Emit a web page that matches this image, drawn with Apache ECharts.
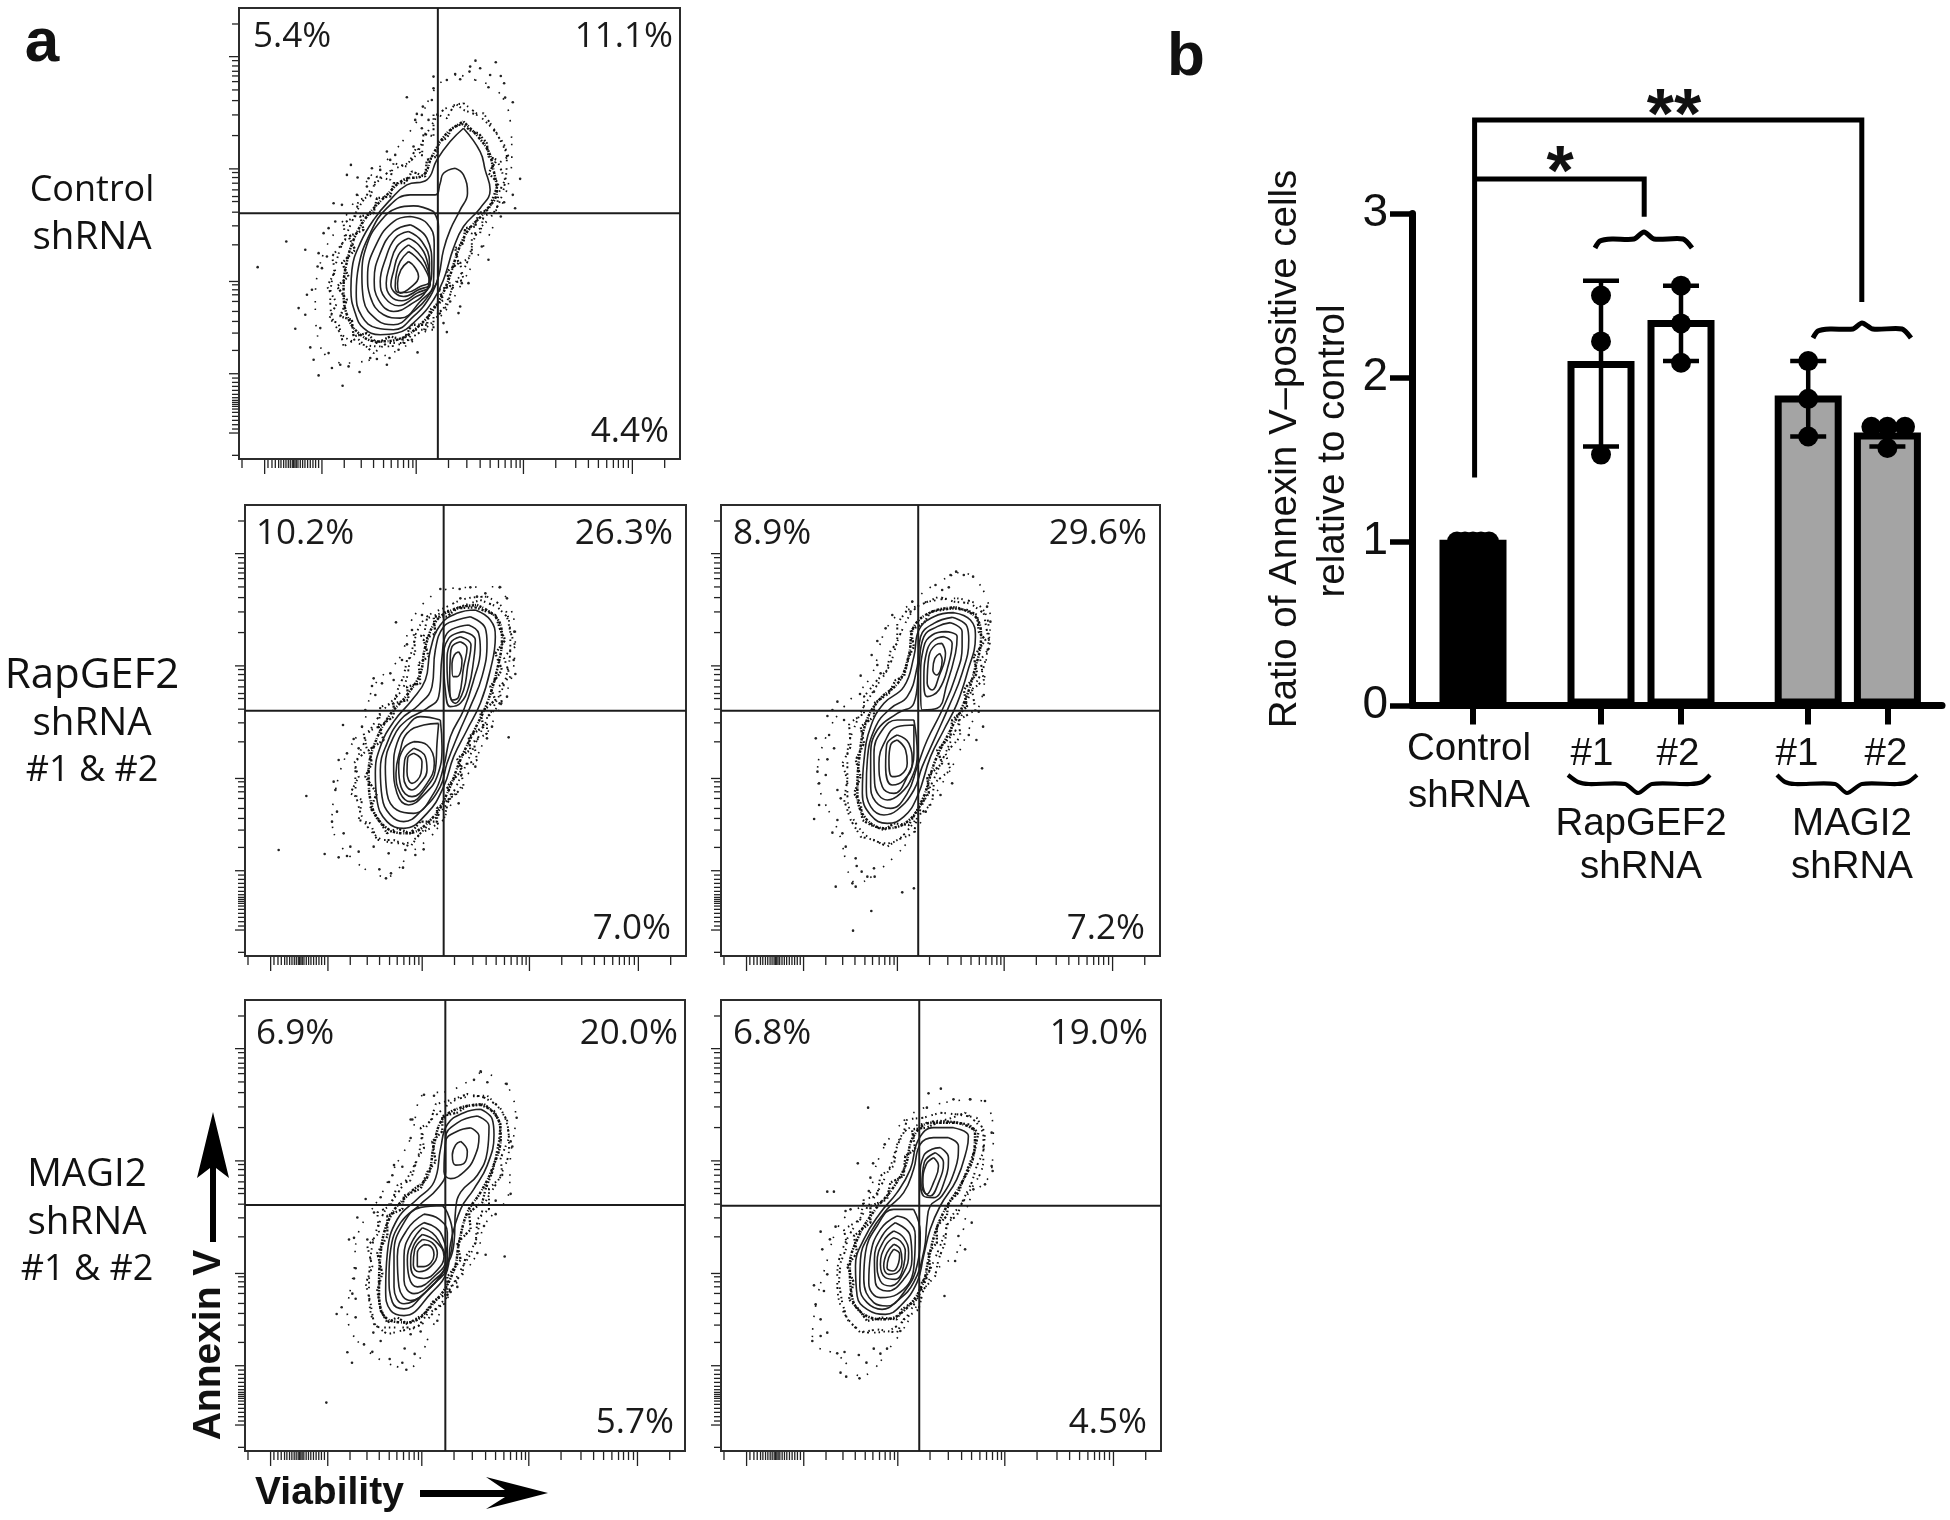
<!DOCTYPE html>
<html><head><meta charset="utf-8">
<style>html,body{margin:0;background:#fff}#c{width:1950px;height:1520px}</style>
<script src="https://cdn.jsdelivr.net/npm/echarts@6/dist/echarts.min.js"></script></head>
<body><div id="c"></div>
<script>
// ---------- Panel b values ----------
const barPositions=[0,1.6,2.6,4.19,5.18];
const barMeans=[1.01,2.10,2.35,1.89,1.665];
const barFills=['#000','#fff','#fff','#a4a4a4','#a4a4a4'];
const barErrors=[[1,1],[1.58,2.59],[2.10,2.56],[1.64,2.10],[1.58,1.70]];
const barPoints=[[-0.2,1],[-0.1,1],[0,1],[0.1,1],[0.2,1],
 [1.6,2.5],[1.6,2.22],[1.6,1.53],[2.6,2.56],[2.6,2.33],[2.6,2.09],
 [4.19,2.1],[4.19,1.87],[4.19,1.64],[4.98,1.7],[5.18,1.7],[5.4,1.7],[5.18,1.57]];
const yTicks=[0,1,2,3];
const sigBracketLong=[[0.02,1.39],[0.02,3.57],[4.86,3.57],[4.86,2.46]];
const sigBracketShort=[[0.02,3.21],[2.14,3.21],[2.14,2.98]];

// ---------- Shared cytometer tick offsets (biexponential scale) ----------
const xTickMajor=[77,249,532,854,1181];
const xTickMinor=[9,87,99,109,119,126,134,141,148,154,160,164,168,172,177,184,191,198,206,214,222,230,239,316,367,404,434,457,477,494,509,522,629,684,724,754,779,799,817,832,844,951,1011,1049,1079,1104,1124,1139,1154,1169,1278];
const yTickMajor=[146,483,821,1098,1276];
const yTickMinor=[48,158,174,190,204,221,246,278,321,383,494,509,526,546,566,581,613,654,711,831,846,861,881,911,941,976,1028,1111,1124,1136,1148,1160,1170,1178,1184,1190,1196,1204,1214,1226,1238,1251,1264,1343];

// ---------- Panel a: Control ----------
const controlContours=[
[700,385,750,455,765,510,780,570,750,625,700,680,670,745,640,840,610,900,560,960,500,1000,450,1005,400,985,375,940,362,870,365,810,390,730,430,660,480,600,530,555,590,540,620,480,660,425],
[675,505,700,525,712,580,690,630,660,690,640,750,625,830,600,890,550,950,490,990,440,985,395,950,378,880,385,800,420,700,470,625,540,585,615,585,630,550,640,520],
[610,635,550,618,500,625,450,665,410,735,395,830,400,900,440,960,490,975,550,935,600,880,625,820,625,680],
[540,650,490,665,440,730,412,830,420,890,460,945,510,955,570,905,610,850,612,730,590,670],
[540,675,490,695,450,760,432,840,445,900,490,935,540,915,590,870,605,800,590,715],
[535,695,495,715,465,780,450,845,465,895,505,918,550,895,595,860,598,790,575,725],
[535,715,500,740,478,800,468,850,482,890,515,903,560,880,600,855,590,780,565,735],
[535,735,505,765,490,815,482,855,495,880,520,890,565,870,600,850,585,790,560,755],
[535,755,510,785,498,825,495,860,505,878,530,878,570,860,598,845,580,800,555,770],
[535,785,512,810,502,850,510,880,545,860,565,830,552,800]];
const controlHalo=[
[700,365,770,445,790,510,800,575,765,635,715,690,685,750,655,840,625,905,570,975,500,1020,440,1025,385,1000,350,945,340,870,345,810,370,720,410,650,470,585,520,540,580,525,605,470,650,400],
[700,310,790,390,830,470,820,570,790,640,740,700,710,790,670,860,630,940,550,1010,470,1040,380,1030,320,985,300,900,320,780,350,700,400,600,470,520,545,480,590,400,640,330],
[735,240,800,270,840,360,845,470,830,570,780,700,730,790,690,860,640,940,540,1030,440,1075,340,1090,270,1040,255,900,280,760,340,660,420,530,480,470,570,350,620,260,680,225]];
const controlBands=[
[695,372,725,395,745,400,770,430,775,470,800,480,775,520,805,550,790,590,775,630,745,640,735,680,705,685,700,730,675,745,685,790,650,815,660,860,625,870,640,900,600,930,590,975,545,975,520,1020,480,1010,440,1030,410,1000,370,1010,365,960,330,950,350,900,320,860,355,830,335,790,375,750,355,710,400,690,390,650,430,640,440,595,480,590,490,550,525,550,545,515,585,530,590,480,620,470,625,425,650,415,665,385],
[700,330,740,345,760,340,800,400,815,430,835,470,805,490,825,540,805,580,800,630,760,650,750,700,725,700,725,770,690,790,700,840,670,850,650,920,610,950,610,990,550,990,530,1030,470,1030,430,1060,380,1015,340,1040,325,970,295,960,320,910,290,860,315,815,305,770,345,720,340,670,375,650,385,600,420,590,440,530,480,540,490,490,530,500,560,440,575,470,580,400,610,410,610,340,650,355,675,310]];
const controlDots=[[736,182],[797,187],[720,200],[750,205],[718,215],[780,225],[812,228],[610,230],[650,240],[690,238],[822,250],[610,265],[775,262],[675,222],[530,292],[605,300],[848,307],[825,293],[578,320],[575,345],[560,342],[595,360],[555,360],[575,385],[550,440],[470,455],[495,465],[480,480],[362,495],[350,525],[382,533],[425,505],[450,510],[415,535],[870,537],[848,585],[822,607],[855,625],[812,650],[310,610],[335,615],[380,585],[410,560],[315,665],[295,685],[280,700],[168,725],[225,750],[82,802],[265,760],[290,770],[262,800],[275,805],[775,780],[755,740],[715,850],[695,850],[660,905],[690,920],[685,940],[640,970],[650,997],[205,925],[225,945],[230,885],[195,987],[240,1043],[250,1080],[265,1127],[305,1105],[337,1158],[355,1100],[388,1117],[420,1075],[470,1095],[478,1075],[562,1058],[545,1020],[245,870],[270,985],[295,1060],[440,1078],[330,1095],[505,1050]];

// ---------- Panel a: RapGEF2 #1 ----------
const rap1Contours=[
[735,330,780,360,795,410,780,510,750,610,710,690,670,770,640,860,590,940,520,985,470,965,440,900,435,820,450,740,490,665,545,600,585,540,600,450,630,375,680,340],
[720,350,765,385,770,430,755,530,720,620,685,700,650,790,630,860,575,930,520,965,480,945,455,890,450,810,470,730,510,660,565,615,605,560,615,450,640,380,680,360],
[715,375,745,400,750,450,730,540,700,630,660,710,640,800,610,880,550,940,500,930,470,880,465,800,490,710,530,660,590,625,625,590,635,470,650,400],
[700,395,735,420,730,480,715,560,690,610,660,620,645,570,640,480,655,415],
[690,410,722,435,712,500,700,570,675,610,655,570,650,490,660,430],
[690,425,710,445,700,500,685,590,665,600,658,540,660,470,665,440],
[685,455,695,480,680,530,668,530,665,490,672,465],
[630,660,570,650,530,680,500,730,490,800,500,880,535,915,585,880,620,830,635,740],
[625,670,580,675,530,700,510,750,497,820,510,880,540,905,590,860,615,810,620,730],
[550,725,590,735,612,790,590,850,545,890,512,860,505,800,520,745],
[550,745,585,770,590,810,570,850,545,870,520,830,523,780],
[550,760,575,785,572,820,545,850,530,815,532,775]];
const rap1Halo=[
[740,315,800,355,815,415,800,510,770,610,730,695,690,780,655,870,610,950,530,1000,470,985,425,920,415,820,430,740,475,650,530,585,570,520,585,440,620,360,680,325],
[770,290,830,340,840,430,825,540,790,620,740,720,700,810,650,910,590,980,520,1030,440,1010,385,920,375,820,410,710,460,630,520,560,545,450,580,360,650,320,710,295],
[810,260,855,390,850,500,810,620,780,680,730,790,680,880,610,1000,540,1060,470,1130,350,1060,305,960,320,850,350,760,400,670,430,560,510,470,550,350,640,270,720,262]];
const rap1Bands=[
[735,322,770,335,795,345,810,390,825,420,795,460,815,510,780,560,795,600,750,640,760,680,715,710,720,750,680,775,695,810,650,860,665,890,620,925,620,965,570,965,540,1000,500,985,470,1000,440,950,420,925,440,880,405,830,425,790,415,750,460,720,445,680,490,650,490,610,535,600,530,560,570,550,565,490,595,470,580,420,615,400,610,350,650,350,680,325],
[750,300,800,320,830,350,840,395,855,440,820,470,840,530,805,560,815,610,770,650,770,700,730,725,740,780,690,800,700,860,655,900,640,960,600,985,570,1000,540,1040,490,1020,440,1020,420,970,385,960,395,900,360,880,385,830,370,790,410,750,400,700,445,680,450,620,490,610,505,560,520,530,530,480,555,460,550,400,580,410,590,355,630,340]];
const rap1Dots=[[630,267],[688,267],[720,262],[808,262],[765,280],[830,295],[740,290],[690,295],[852,395],[850,480],[855,522],[830,590],[808,610],[785,680],[835,712],[770,715],[735,800],[685,910],[497,367],[575,345],[545,390],[530,433],[515,480],[480,520],[430,535],[490,540],[455,550],[425,558],[435,585],[338,675],[370,717],[385,745],[325,780],[350,760],[395,680],[405,630],[310,845],[228,888],[315,870],[145,1050],[283,1062],[325,1072],[350,1068],[320,935],[305,965],[340,1000],[360,1040],[385,1055],[447,1108],[467,1135],[482,1120],[518,1103],[555,1065],[580,1048],[430,1040],[475,1060],[525,1050]];

// ---------- Panel a: RapGEF2 #2 ----------
const rap2Contours=[
[760,338,810,360,825,410,800,520,770,610,730,690,690,770,650,890,610,950,560,970,510,945,485,880,490,780,510,680,550,610,610,560,640,470,655,390,700,350],
[755,352,800,380,805,420,785,520,745,620,705,710,665,800,640,870,590,930,550,945,510,920,497,860,500,780,525,680,570,625,620,590,650,500,660,410,700,370],
[750,368,785,395,785,440,765,530,725,630,680,720,650,800,620,880,570,925,525,905,510,850,510,770,530,690,590,640,640,610,655,500,670,410,710,380],
[735,395,770,410,765,460,740,550,710,625,665,630,660,540,670,440,695,405],
[730,410,755,430,745,490,715,570,680,590,670,540,680,450,700,420],
[725,430,735,460,715,530,695,570,680,550,685,470,705,435],
[718,460,725,480,708,525,697,510,703,475],
[640,660,590,660,545,690,520,760,522,850,560,900,600,880,635,830,650,760],
[640,675,590,680,555,720,535,790,545,860,580,880,620,830,640,760],
[590,705,625,730,635,790,610,840,575,855,555,800,558,735],
[590,720,615,750,620,790,600,825,575,830,565,780,570,735]];
const rap2Halo=[
[765,322,825,350,842,410,820,520,790,610,750,690,705,780,665,900,620,965,555,985,495,955,470,880,475,780,495,670,535,600,595,545,625,465,640,380,695,335],
[770,295,840,320,865,390,850,500,810,580,770,680,730,770,680,880,630,980,560,1030,480,990,440,880,440,770,470,660,520,570,565,500,600,400,650,320,710,300],
[770,218,820,230,870,360,855,500,845,590,800,700,755,800,700,890,640,1000,560,1090,470,1150,415,1000,350,820,380,700,430,620,510,530,555,390,630,310,700,255]];
const rap2Bands=[
[755,325,800,330,830,345,835,395,855,420,820,470,830,520,790,570,800,620,755,660,750,710,710,750,725,790,680,830,685,880,650,930,625,975,580,970,550,990,510,975,485,960,480,910,460,880,480,830,465,780,490,730,480,680,520,650,520,610,565,580,585,540,610,530,625,470,640,440,630,390,670,370,690,335],
[760,305,810,310,850,340,860,395,870,440,840,480,850,540,815,570,825,630,775,660,780,710,735,760,750,810,700,850,695,910,650,950,640,1000,590,1020,560,1040,520,1020,480,1010,450,960,430,900,440,840,425,790,450,740,445,670,490,640,490,590,530,540,560,510,570,450,590,430,590,370,620,330,670,310,715,290]];
const rap2Dots=[[767,215],[790,225],[818,230],[750,225],[705,255],[725,270],[745,262],[635,305],[630,335],[575,345],[555,385],[530,423],[513,465],[530,495],[480,527],[540,520],[478,582],[520,575],[410,605],[395,630],[380,648],[430,660],[345,715],[385,705],[400,745],[380,778],[350,815],[355,850],[375,825],[410,870],[420,895],[355,915],[340,957],[395,998],[410,960],[425,1000],[435,1040],[465,1075],[468,1098],[483,1115],[500,1130],[520,1105],[522,1130],[405,1160],[455,1150],[465,1160],[512,1233],[457,1292],[605,1177],[640,1165],[845,805],[828,720],[848,680],[805,705],[755,850],[720,885],[675,935],[850,585],[835,635],[870,365],[860,320]];

// ---------- Panel a: MAGI2 #1 ----------
const magi1Contours=[
[870,355,905,385,910,430,890,520,850,590,810,650,780,750,770,830,720,900,640,965,600,950,585,890,590,780,620,680,680,620,730,570,750,470,770,400,820,365],
[860,375,895,405,890,480,860,550,810,600,795,650,790,750,760,830,700,900,640,945,605,925,595,850,600,770,630,690,690,635,740,590,765,540,765,440,800,395],
[840,410,865,435,850,500,820,540,780,560,760,540,765,450,800,420],
[810,450,830,480,820,515,795,520,785,490,795,460],
[755,640,690,645,640,690,610,780,610,880,640,930,700,900,770,810,785,720,770,660],
[700,665,650,710,620,790,625,880,660,920,720,880,770,810,770,720,745,680],
[700,690,660,725,640,790,640,860,670,900,720,870,770,800,755,730,735,705],
[695,705,665,745,650,800,655,850,680,880,730,850,765,800,745,745,725,720],
[695,725,668,760,660,810,668,845,700,855,740,830,760,790,735,745],
[695,740,672,770,668,815,685,835,720,820,740,780,725,750],
[700,755,680,780,680,820,700,820,730,785,720,760]];
const magi1Halo=[
[880,340,925,390,930,440,905,530,870,600,830,660,805,750,790,830,740,915,650,985,590,975,565,900,570,780,600,670,660,600,710,555,730,460,755,385,810,350],
[890,315,945,385,955,470,930,550,880,640,850,760,810,830,750,930,660,1000,570,1000,535,900,540,790,575,670,630,590,680,500,700,420,750,360,820,320],
[870,245,945,280,975,380,960,490,955,600,880,700,860,780,790,880,735,980,650,1120,520,1060,470,960,490,830,500,730,570,610,610,530,660,440,700,310,780,300]];
const magi1Bands=[
[870,342,910,360,930,400,925,450,915,500,905,540,885,590,875,630,835,660,840,710,800,750,810,800,770,850,770,900,730,920,700,960,650,990,620,970,590,985,570,950,560,890,575,840,560,780,590,730,590,670,635,650,640,610,690,590,710,540,735,510,725,450,755,420,755,375,800,365,830,345],
[880,320,925,345,950,390,955,440,930,500,935,550,895,590,895,650,860,680,855,750,825,790,815,840,780,880,760,930,710,960,680,1000,630,1010,590,1020,550,990,540,930,525,870,545,820,530,760,565,720,560,660,600,640,620,580,660,565,680,500,700,470,690,410,720,390,735,340,790,325,830,310]];
const magi1Dots=[[870,243],[850,268],[890,275],[948,280],[730,315],[700,312],[665,385],[978,380],[960,450],[965,465],[960,605],[915,625],[915,665],[880,700],[860,780],[942,790],[885,785],[800,880],[780,895],[740,980],[660,385],[660,440],[610,520],[635,525],[605,550],[595,570],[570,615],[525,620],[500,675],[550,660],[475,740],[490,735],[530,740],[495,825],[490,855],[485,900],[495,915],[453,940],[438,960],[495,970],[407,1222],[548,1015],[520,1050],[470,1073],[484,1104],[545,1072],[597,1093],[635,1104],[647,1125],[672,1078],[642,1062],[690,1012],[660,1020],[570,1040]];

// ---------- Panel a: MAGI2 #2 ----------
const magi2Contours=[
[760,415,805,440,800,480,770,570,720,650,690,720,670,800,650,880,600,950,555,975,500,960,470,920,465,830,490,750,540,670,590,610,630,540,655,450,700,415],
[745,445,775,470,765,540,725,620,690,650,680,700,672,780,640,880,590,935,545,960,500,940,478,890,480,810,510,730,560,660,610,610,640,540,660,465,700,445],
[720,475,745,505,735,570,700,625,670,620,660,560,670,500,695,480],
[705,490,730,520,715,580,690,620,665,590,672,520],
[700,505,715,530,700,580,680,615,668,580,678,525],
[640,660,580,660,530,710,495,790,490,870,520,940,560,950,610,910,650,830,660,730],
[590,680,540,720,510,800,505,880,540,925,590,915,640,840,645,740,625,695],
[585,700,545,740,522,810,525,880,560,905,610,870,635,810,630,740],
[580,725,550,755,530,820,540,875,570,890,610,850,625,790,610,745],
[580,745,555,770,540,825,555,865,585,870,610,830,615,785,600,755],
[580,765,560,790,550,830,565,855,590,850,605,815,600,780],
[580,780,565,805,560,835,578,845,595,820,598,795]];
const magi2Halo=[
[770,400,825,430,822,490,785,580,735,660,705,730,685,810,665,890,610,965,555,990,490,975,455,925,448,830,475,740,525,660,575,600,615,530,640,440,695,400],
[795,370,850,440,850,510,800,620,750,690,720,770,690,840,650,930,590,1010,510,1030,430,970,410,860,430,770,490,670,530,610,570,530,610,430,680,400,740,390],
[810,330,855,340,880,430,875,540,810,630,790,720,770,790,700,850,660,930,580,1060,480,1160,415,1100,335,1055,345,950,375,830,420,700,500,630,530,520,580,430,660,360]];
const magi2Bands=[
[760,398,805,405,835,430,825,480,810,520,790,570,775,610,745,640,740,680,710,710,710,760,685,790,690,840,665,880,650,930,605,960,590,990,545,985,500,995,475,960,445,930,460,880,440,830,470,790,460,740,510,700,510,650,560,630,570,580,610,560,615,500,645,480,635,420,680,415,720,395],
[770,375,830,385,855,430,850,490,830,530,815,580,790,630,770,680,740,700,735,760,715,810,705,860,670,900,655,960,610,990,590,1030,530,1020,480,1030,440,990,425,940,415,880,420,820,440,770,430,720,480,690,490,630,530,620,540,560,580,530,590,470,610,430,620,390,670,385,720,370]];
const magi2Dots=[[722,298],[685,312],[855,335],[810,330],[760,330],[680,355],[503,355],[875,430],[875,530],[878,545],[855,585],[820,600],[815,700],[795,780],[765,815],[733,920],[775,740],[472,522],[518,522],[553,465],[510,565],[380,607],[400,607],[505,605],[450,660],[435,665],[405,712],[360,727],[388,750],[365,780],[380,855],[340,888],[370,905],[345,945],[360,990],[380,1030],[335,1055],[360,1040],[410,1092],[432,1088],[420,1150],[437,1162],[477,1167],[498,1120],[475,1097],[520,1078],[540,1093],[560,1078],[600,1025]];

// ---------- Text ----------
const quadrantLabels=[['5.4%','11.1%','4.4%'],['10.2%','26.3%','7.0%'],['8.9%','29.6%','7.2%'],['6.9%','20.0%','5.7%'],['6.8%','19.0%','4.5%']];

// ---------- Layout ----------
const panels=[
 {c:controlContours,h:controlHalo,z:controlBands,d:controlDots,l:239,t:8,r:680,b:459,ax:[26,1350],ay:[24,1378],gx:623,gy:640,lx:253,rx:673,rbx:669,ty:37,by:432},
 {c:rap1Contours,h:rap1Halo,z:rap1Bands,d:rap1Dots,l:245,t:505,r:686,b:956,ax:[44,1367],ay:[15,1368],gx:640,gy:632,lx:256,rx:673,rbx:671,ty:534,by:929},
 {c:rap2Contours,h:rap2Halo,z:rap2Bands,d:rap2Dots,l:721,t:505,r:1160,b:956,ax:[60,1380],ay:[15,1368],gx:653,gy:632,lx:733,rx:1147,rbx:1145,ty:534,by:929},
 {c:magi1Contours,h:magi1Halo,z:magi1Bands,d:magi1Dots,l:245,t:1000,r:685,b:1451,ax:[163,1483],ay:[32,1365],gx:764,gy:638,lx:256,rx:678,rbx:674,ty:1034,by:1423},
 {c:magi2Contours,h:magi2Halo,z:magi2Bands,d:magi2Dots,l:721,t:1000,r:1161,b:1451,ax:[60,1385],ay:[32,1385],gx:657,gy:649,lx:733,rx:1148,rbx:1147,ty:1034,by:1423}
];
const pairs=a=>{const o=[];for(let i=0;i<a.length;i+=2)o.push([a[i],a[i+1]]);return o;};
const closed=a=>{const p=pairs(a);p.push(p[0]);return p;};
const grid=[],xAxis=[],yAxis=[],series=[],graphic=[];
const ink='#1c1c1c';
const haloStyles=[{width:2.5,dash:[1.5,1.2,2.4,1,1,1.8,2.6,1.2]},{width:1.9,dash:[1.5,3,1.5,5,2,2.6,1.5,7,1.5,3.5]},{width:1.6,dash:[1.5,9,1.5,15,1.5,6,1.5,11]}];
const bandStyles=[{width:2.3,dash:[1.6,1.4,1.6,2,2.2,1.2,1.6,2.6]},{width:2,dash:[1.5,2.4,1.5,4,2,2,1.5,5]}];
panels.forEach((p,i)=>{
 grid.push({left:p.l,top:p.t,width:p.r-p.l,height:p.b-p.t,show:true,borderColor:'#2c2c2c',borderWidth:2,backgroundColor:'#fff'});
 xAxis.push({type:'value',gridIndex:i,min:p.ax[0],max:p.ax[1],show:false});
 yAxis.push({type:'value',gridIndex:i,min:p.ay[0],max:p.ay[1],inverse:true,show:false});
 const base={xAxisIndex:i,yAxisIndex:i,animation:false,silent:true,symbol:'none'};
 p.h.forEach((r,k)=>series.push({...base,type:'line',smooth:0.4,data:closed(r),z:2,lineStyle:{color:'#111',width:haloStyles[k].width,type:haloStyles[k].dash}}));
 p.z.forEach((r,k)=>series.push({...base,type:'line',data:closed(r),z:2,lineStyle:{color:'#111',width:bandStyles[k].width,type:bandStyles[k].dash}}));
 series.push({...base,type:'scatter',symbol:'circle',symbolSize:2.6,data:p.d,z:2,itemStyle:{color:'#222',opacity:1}});
 p.c.forEach(c=>series.push({...base,type:'line',smooth:0.45,data:closed(c),z:3,lineStyle:{color:'#222',width:1.6}}));
 series.push({...base,type:'line',data:[[p.gx,p.ay[0]],[p.gx,p.ay[1]]],z:4,lineStyle:{color:ink,width:2}});
 series.push({...base,type:'line',data:[[p.ax[0],p.gy],[p.ax[1],p.gy]],z:4,lineStyle:{color:ink,width:2}});
 const sx=(p.ax[1]-p.ax[0])/1324, sy=(p.ay[1]-p.ay[0])/1354;
 const xt=[...xTickMinor.map(v=>[p.ax[0]+v*sx,8]),...xTickMajor.map(v=>[p.ax[0]+v*sx,14])];
 const yt=[...yTickMinor.map(v=>[p.ay[0]+v*sy,6]),...yTickMajor.map(v=>[p.ay[0]+v*sy,9])];
 series.push({...base,type:'custom',clip:false,data:xt,z:1,renderItem:(c,api)=>{const a=api.coord([api.value(0),p.ay[1]]);return{type:'line',shape:{x1:a[0],y1:a[1]+1,x2:a[0],y2:a[1]+1+api.value(1)},style:{stroke:'#222',lineWidth:1.3}};}});
 series.push({...base,type:'custom',clip:false,data:yt.map(v=>[v[1],v[0]]),z:1,renderItem:(c,api)=>{const a=api.coord([p.ax[0],api.value(1)]);return{type:'line',shape:{x1:a[0]-1,y1:a[1],x2:a[0]-1-api.value(0),y2:a[1]},style:{stroke:'#222',lineWidth:1.3}};}});
 const q=quadrantLabels[i], F='35px "Open Sans"';
 const T=(x,y,t,al)=>graphic.push({type:'text',x,y,z:20,style:{text:t,font:F,fill:'#1a1a1a',textAlign:al,textVerticalAlign:'middle'}});
 T(p.lx,p.ty,q[0],'left');T(p.rx,p.ty,q[1],'right');T(p.rbx,p.by,q[2],'right');
});

// ---------- Panel b ----------
const bi=panels.length;
grid.push({left:1412,top:213.5,width:530,height:492});
xAxis.push({type:'value',gridIndex:bi,min:-0.7625,max:5.8625,splitLine:{show:false},
 axisLine:{onZero:false,lineStyle:{color:'#000',width:7}},
 axisTick:{customValues:barPositions,length:19,lineStyle:{color:'#000',width:6}},axisLabel:{show:false}});
yAxis.push({type:'value',gridIndex:bi,min:0,max:3,interval:1,splitLine:{show:false},
 axisLine:{show:true,onZero:false,lineStyle:{color:'#000',width:7}},
 axisTick:{show:true,length:22,lineStyle:{color:'#000',width:5.5}},
 axisLabel:{margin:24,padding:[7,0,0,0],fontFamily:'"Liberation Sans"',fontSize:46,color:'#111',formatter:v=>yTicks.includes(v)?String(v):''}});
const ba={xAxisIndex:bi,yAxisIndex:bi,animation:false,silent:true};
series.push({...ba,type:'bar',barWidth:67,z:3,data:barPositions.map((x,i)=>({value:[x,barMeans[i]],itemStyle:{color:barFills[i],borderColor:'#000',borderWidth:7}}))});
series.push({...ba,type:'custom',z:5,clip:false,data:barPositions.map((x,i)=>[x,barErrors[i][0],barErrors[i][1]]).slice(1),renderItem:(c,api)=>{
 const x=api.value(0),lo=api.coord([x,api.value(1)]),hi=api.coord([x,api.value(2)]);
 const st={stroke:'#000',lineWidth:4.5};
 return{type:'group',children:[{type:'line',shape:{x1:lo[0],y1:lo[1],x2:hi[0],y2:hi[1]},style:st},{type:'line',shape:{x1:lo[0]-18,y1:lo[1],x2:lo[0]+18,y2:lo[1]},style:st},{type:'line',shape:{x1:hi[0]-18,y1:hi[1],x2:hi[0]+18,y2:hi[1]},style:st}]};}});
series.push({...ba,type:'scatter',z:6,symbol:'circle',symbolSize:20,clip:false,data:barPoints,itemStyle:{color:'#000',opacity:1}});
[sigBracketLong,sigBracketShort].forEach(d=>series.push({...ba,type:'line',symbol:'none',clip:false,z:6,data:d,lineStyle:{color:'#000',width:5,join:'miter'}}));

// ---------- Text & annotation shapes ----------
const text=(x,y,t,font,al='center',rot=0)=>graphic.push({type:'text',x,y,rotation:rot,z:20,style:{text:t,font,fill:'#111',textAlign:al,textVerticalAlign:'middle'}});
const H='38.5px "Liberation Sans"', O='36px "Open Sans"', O2='38.5px "Open Sans"';
text(42,44,'a','bold 62px "Liberation Sans"');text(1186,58,'b','bold 62px "Liberation Sans"');
text(92,191,'Control',O);text(92,238,'shRNA',O2);
text(92,676,'RapGEF2','42px "Open Sans"');text(92,724,'shRNA',O2);text(92,771,'#1 & #2',O);
text(87,1175,'MAGI2',O2);text(87,1223,'shRNA',O2);text(87,1270,'#1 & #2',O);
text(209,1345,'Annexin V','bold 39px "Liberation Sans"','center',Math.PI/2);
text(255,1493,'Viability','bold 39px "Liberation Sans"','left');
text(1285,449,'Ratio of Annexin V\u2013positive cells',H,'center',Math.PI/2);
text(1333,451,'relative to control',H,'center',Math.PI/2);
text(1469,749,'Control',H);text(1469,796,'shRNA',H);
[['#1',1592],['#2',1678],['#1',1797],['#2',1886]].forEach(a=>text(a[1],754,a[0],H));
text(1641,824,'RapGEF2',H);text(1641,867,'shRNA',H);text(1852,824,'MAGI2',H);text(1852,867,'shRNA',H);
text(1674,119,'**','bold 70px "Liberation Sans"');text(1560,176,'*','bold 70px "Liberation Sans"');
const shape=(type,points,style)=>graphic.push({type,z:15,shape:{points,smooth:type==='polyline'?0.25:0},style});
const br={stroke:'#000',lineWidth:5,fill:null}, br2={stroke:'#000',lineWidth:4.2,fill:null};
shape('polyline',[[1595,248],[1600,241],[1612,239],[1634,239],[1644,232],[1654,239],[1683,239],[1692,248]],br);
shape('polyline',[[1813,338],[1818,331],[1830,329],[1853,329],[1862,323],[1873,329],[1902,329],[1911,338]],br);
shape('polyline',[[1568,775],[1578,782],[1589,784],[1625,784],[1638,793],[1652,784],[1690,784],[1702,782],[1710,775]],br2);
shape('polyline',[[1777,775],[1785,782],[1795,784],[1835,784],[1847,793],[1862,784],[1897,784],[1908,782],[1917,775]],br2);
shape('polygon',[[210,1242],[210,1168],[197,1178],[213,1112],[229,1178],[216,1168],[216,1242]],{fill:'#000'});
shape('polygon',[[420,1490],[505,1490],[486,1477],[548,1493],[486,1509],[505,1497],[420,1497]],{fill:'#000'});

const chart=echarts.init(document.getElementById('c'),null,{renderer:'canvas'});
chart.setOption({animation:false,backgroundColor:'#fff',grid,xAxis,yAxis,series,graphic:{elements:graphic}});
</script></body></html>
